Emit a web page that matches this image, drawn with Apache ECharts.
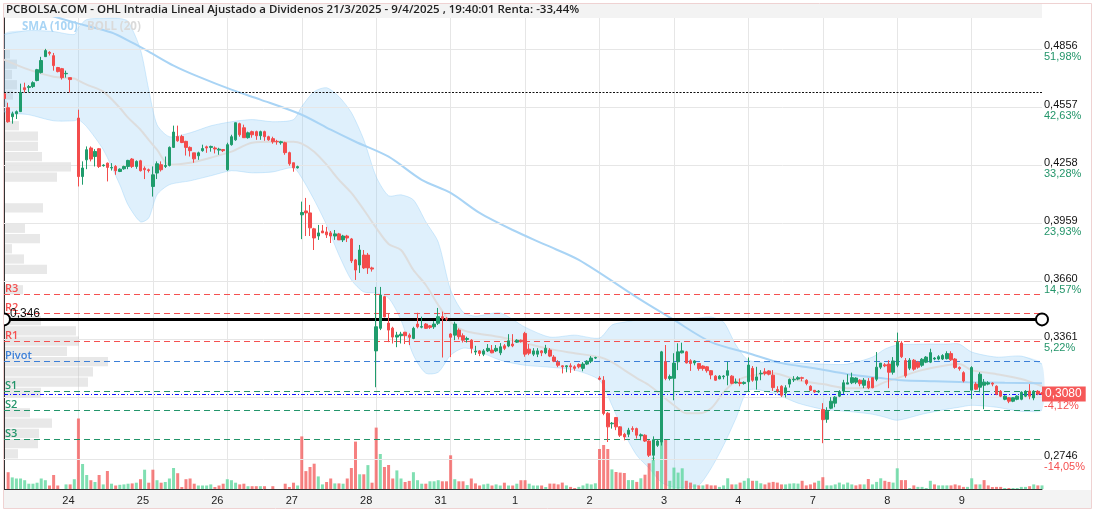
<!DOCTYPE html>
<html>
<head>
<meta charset="utf-8">
<title>OHL Intradia</title>
<script src="https://cdn.jsdelivr.net/npm/echarts@6.0.0/dist/echarts.min.js"></script>
<style>
  html, body { margin: 0; padding: 0; background: #fff; }
  #chart { width: 1096px; height: 512px; }
</style>
</head>
<body>
<div id="chart"></div>
<script>
// sesiones (dias) y barras de 30 min por sesion
const DAYS = ['21', '24', '25', '26', '27', '28', '31', '1', '2', '3', '4', '7', '8', '9'];
const SLOTS = 18;

// velas [apertura, cierre, minimo, maximo] por sesion
const day21 = [
  [0.4625, 0.4600, 0.4569, 0.4632], [0.4553, 0.4481, 0.4476, 0.4579], [0.4507, 0.4522, 0.4471, 0.4533],
  [0.4522, 0.4533, 0.4495, 0.4539], [0.4533, 0.4631, 0.4531, 0.4677], [0.4656, 0.4646, 0.4631, 0.4682],
  [0.4657, 0.4662, 0.4634, 0.4670], [0.4662, 0.4682, 0.4655, 0.4689], [0.4693, 0.4749, 0.4689, 0.4753],
  [0.4734, 0.4796, 0.4729, 0.4815], [0.4816, 0.4847, 0.4815, 0.4856], [0.4838, 0.4833, 0.4822, 0.4844],
  [0.4821, 0.4770, 0.4744, 0.4835], [0.4760, 0.4739, 0.4735, 0.4763], [0.4754, 0.4708, 0.4698, 0.4758],
  [0.4728, 0.4730, 0.4708, 0.4744], [0.4708, 0.4698, 0.4631, 0.4708], null
];
const day24 = [
  [0.4500, 0.4199, 0.4148, 0.4543], [0.4199, 0.4243, 0.4157, 0.4277], [0.4285, 0.4337, 0.4237, 0.4354],
  [0.4346, 0.4289, 0.4277, 0.4354], [0.4302, 0.4328, 0.4251, 0.4340], [0.4342, 0.4251, 0.4243, 0.4346],
  [0.4255, 0.4258, 0.4250, 0.4262], [0.4268, 0.4246, 0.4174, 0.4271], [0.4243, 0.4246, 0.4230, 0.4268],
  [0.4251, 0.4229, 0.4208, 0.4258], [0.4225, 0.4237, 0.4222, 0.4241], [0.4239, 0.4251, 0.4234, 0.4255],
  [0.4251, 0.4282, 0.4237, 0.4285], [0.4289, 0.4251, 0.4243, 0.4294], [0.4251, 0.4277, 0.4239, 0.4282],
  [0.4280, 0.4229, 0.4225, 0.4285], [0.4241, 0.4234, 0.4186, 0.4251], [0.4234, 0.4230, 0.4220, 0.4240]
];
const day25 = [
  [0.4148, 0.4208, 0.4096, 0.4251], [0.4217, 0.4265, 0.4186, 0.4277], [0.4260, 0.4234, 0.4225, 0.4277],
  [0.4251, 0.4256, 0.4243, 0.4302], [0.4256, 0.4349, 0.4251, 0.4354], [0.4349, 0.4428, 0.4346, 0.4461],
  [0.4405, 0.4383, 0.4378, 0.4461], [0.4405, 0.4374, 0.4371, 0.4414], [0.4380, 0.4349, 0.4307, 0.4383],
  [0.4349, 0.4332, 0.4302, 0.4354], [0.4321, 0.4290, 0.4270, 0.4321], [0.4306, 0.4321, 0.4285, 0.4327],
  [0.4332, 0.4343, 0.4327, 0.4363], [0.4352, 0.4346, 0.4321, 0.4358], [0.4349, 0.4354, 0.4327, 0.4358],
  [0.4346, 0.4341, 0.4318, 0.4354], [0.4335, 0.4340, 0.4311, 0.4347], [0.4338, 0.4332, 0.4325, 0.4340]
];
const day26 = [
  [0.4234, 0.4363, 0.4229, 0.4373], [0.4363, 0.4404, 0.4358, 0.4414], [0.4388, 0.4476, 0.4383, 0.4476],
  [0.4471, 0.4414, 0.4404, 0.4476], [0.4450, 0.4399, 0.4399, 0.4466], [0.4399, 0.4424, 0.4394, 0.4430],
  [0.4430, 0.4414, 0.4399, 0.4435], [0.4430, 0.4409, 0.4388, 0.4435], [0.4409, 0.4430, 0.4388, 0.4435],
  [0.4430, 0.4404, 0.4383, 0.4435], [0.4404, 0.4388, 0.4383, 0.4409], [0.4394, 0.4378, 0.4368, 0.4404],
  [0.4380, 0.4378, 0.4363, 0.4388], [0.4373, 0.4378, 0.4363, 0.4383], [0.4373, 0.4322, 0.4311, 0.4378],
  [0.4322, 0.4265, 0.4255, 0.4327], [0.4270, 0.4244, 0.4224, 0.4270], [0.4244, 0.4250, 0.4240, 0.4255]
];
const day27 = [
  [0.4002, 0.4014, 0.3877, 0.4070], [0.4022, 0.4012, 0.3893, 0.4089], [0.4012, 0.3935, 0.3893, 0.4053],
  [0.3930, 0.3883, 0.3821, 0.3935], [0.3893, 0.3909, 0.3873, 0.3950], [0.3919, 0.3909, 0.3909, 0.3950],
  [0.3914, 0.3899, 0.3883, 0.3940], [0.3909, 0.3893, 0.3857, 0.3919], [0.3893, 0.3904, 0.3873, 0.3924],
  [0.3904, 0.3873, 0.3873, 0.3909], [0.3873, 0.3893, 0.3862, 0.3899], [0.3893, 0.3883, 0.3862, 0.3899],
  [0.3878, 0.3765, 0.3754, 0.3883], [0.3770, 0.3718, 0.3667, 0.3775], [0.3744, 0.3821, 0.3703, 0.3847],
  [0.3795, 0.3729, 0.3723, 0.3821], [0.3795, 0.3729, 0.3698, 0.3806], [0.3729, 0.3723, 0.3710, 0.3735]
];
const day28 = [
  [0.3302, 0.3426, 0.3115, 0.3631], [0.3418, 0.3589, 0.3409, 0.3631], [0.3581, 0.3477, 0.3475, 0.3585],
  [0.3445, 0.3409, 0.3347, 0.3497], [0.3419, 0.3373, 0.3340, 0.3426], [0.3373, 0.3383, 0.3321, 0.3400],
  [0.3380, 0.3388, 0.3340, 0.3400], [0.3398, 0.3380, 0.3337, 0.3400], [0.3383, 0.3372, 0.3332, 0.3392],
  [0.3366, 0.3418, 0.3362, 0.3426], [0.3440, 0.3426, 0.3418, 0.3498], [0.3424, 0.3427, 0.3418, 0.3478],
  [0.3440, 0.3418, 0.3415, 0.3445], [0.3431, 0.3423, 0.3415, 0.3435], [0.3426, 0.3440, 0.3415, 0.3455],
  [0.3444, 0.3478, 0.3435, 0.3523], [0.3478, 0.3469, 0.3268, 0.3504], [0.3469, 0.3465, 0.3455, 0.3475]
];
const day31 = [
  [0.3389, 0.3372, 0.3270, 0.3393], [0.3383, 0.3440, 0.3357, 0.3452], [0.3409, 0.3375, 0.3361, 0.3418],
  [0.3380, 0.3357, 0.3345, 0.3392], [0.3361, 0.3366, 0.3345, 0.3375], [0.3357, 0.3315, 0.3289, 0.3362],
  [0.3296, 0.3301, 0.3281, 0.3328], [0.3302, 0.3289, 0.3275, 0.3306], [0.3285, 0.3302, 0.3275, 0.3311],
  [0.3302, 0.3315, 0.3296, 0.3337], [0.3306, 0.3292, 0.3290, 0.3332], [0.3302, 0.3315, 0.3296, 0.3332],
  [0.3292, 0.3323, 0.3280, 0.3342], [0.3328, 0.3315, 0.3306, 0.3337], [0.3327, 0.3354, 0.3321, 0.3388],
  [0.3337, 0.3328, 0.3321, 0.3388], [0.3347, 0.3357, 0.3343, 0.3362], [0.3357, 0.3350, 0.3345, 0.3360]
];
const day1 = [
  [0.3392, 0.3285, 0.3272, 0.3400], [0.3311, 0.3290, 0.3280, 0.3337], [0.3285, 0.3302, 0.3275, 0.3316],
  [0.3285, 0.3302, 0.3270, 0.3316], [0.3302, 0.3292, 0.3275, 0.3306], [0.3292, 0.3315, 0.3285, 0.3333],
  [0.3306, 0.3275, 0.3270, 0.3316], [0.3270, 0.3249, 0.3244, 0.3280], [0.3244, 0.3228, 0.3218, 0.3254],
  [0.3225, 0.3220, 0.3186, 0.3228], [0.3220, 0.3225, 0.3192, 0.3228], [0.3225, 0.3220, 0.3189, 0.3238],
  [0.3220, 0.3212, 0.3200, 0.3228], [0.3232, 0.3220, 0.3212, 0.3238], [0.3212, 0.3234, 0.3197, 0.3244],
  [0.3234, 0.3249, 0.3229, 0.3254], [0.3249, 0.3265, 0.3239, 0.3275], [0.3265, 0.3268, 0.3260, 0.3272]
];
const day2 = [
  [0.3162, 0.3156, 0.3151, 0.3172], [0.3151, 0.2980, 0.2971, 0.3172], [0.2981, 0.2911, 0.2833, 0.2987],
  [0.2927, 0.2930, 0.2902, 0.2936], [0.2959, 0.2911, 0.2894, 0.2962], [0.2911, 0.2868, 0.2859, 0.2914],
  [0.2873, 0.2859, 0.2842, 0.2880], [0.2873, 0.2894, 0.2858, 0.2906], [0.2902, 0.2898, 0.2885, 0.2914],
  [0.2902, 0.2868, 0.2851, 0.2907], [0.2865, 0.2870, 0.2842, 0.2877], [0.2868, 0.2838, 0.2833, 0.2873],
  [0.2838, 0.2765, 0.2756, 0.2842], [0.2765, 0.2845, 0.2739, 0.2862], [0.2816, 0.2838, 0.2808, 0.2845],
  [0.2833, 0.3297, 0.2815, 0.3302], [0.3246, 0.3160, 0.3151, 0.3332], [0.3160, 0.3170, 0.3150, 0.3180]
];
const day3 = [
  [0.3161, 0.3239, 0.3048, 0.3290], [0.3246, 0.3297, 0.3203, 0.3341], [0.3292, 0.3302, 0.3289, 0.3344],
  [0.3297, 0.3240, 0.3237, 0.3302], [0.3251, 0.3237, 0.3199, 0.3259], [0.3240, 0.3250, 0.3228, 0.3254],
  [0.3237, 0.3211, 0.3200, 0.3240], [0.3224, 0.3211, 0.3200, 0.3228], [0.3220, 0.3200, 0.3190, 0.3224],
  [0.3200, 0.3178, 0.3156, 0.3203], [0.3172, 0.3151, 0.3148, 0.3177], [0.3158, 0.3172, 0.3156, 0.3177],
  [0.3169, 0.3172, 0.3156, 0.3177], [0.3176, 0.3200, 0.3125, 0.3246], [0.3172, 0.3135, 0.3130, 0.3177],
  [0.3137, 0.3142, 0.3134, 0.3160], [0.3140, 0.3134, 0.3120, 0.3160], [0.3134, 0.3140, 0.3128, 0.3145]
];
const day4 = [
  [0.3143, 0.3229, 0.3091, 0.3268], [0.3212, 0.3151, 0.3143, 0.3224], [0.3151, 0.3168, 0.3103, 0.3220],
  [0.3184, 0.3187, 0.3151, 0.3203], [0.3194, 0.3186, 0.3176, 0.3213], [0.3199, 0.3182, 0.3176, 0.3203],
  [0.3177, 0.3113, 0.3096, 0.3203], [0.3103, 0.3096, 0.3086, 0.3120], [0.3120, 0.3074, 0.3065, 0.3125],
  [0.3086, 0.3112, 0.3062, 0.3125], [0.3131, 0.3155, 0.3113, 0.3160], [0.3153, 0.3156, 0.3142, 0.3172],
  [0.3157, 0.3164, 0.3151, 0.3172], [0.3164, 0.3161, 0.3146, 0.3169], [0.3151, 0.3134, 0.3125, 0.3156],
  [0.3120, 0.3099, 0.3096, 0.3125], [0.3099, 0.3091, 0.3086, 0.3101], [0.3091, 0.3095, 0.3086, 0.3100]
];
const day7 = [
  [0.3000, 0.2948, 0.2827, 0.3033], [0.2950, 0.2992, 0.2932, 0.3012], [0.3007, 0.3043, 0.3002, 0.3064],
  [0.3033, 0.3064, 0.3012, 0.3069], [0.3069, 0.3092, 0.3064, 0.3100], [0.3095, 0.3138, 0.3079, 0.3153],
  [0.3131, 0.3138, 0.3131, 0.3182], [0.3138, 0.3164, 0.3131, 0.3190], [0.3141, 0.3162, 0.3131, 0.3166],
  [0.3151, 0.3133, 0.3120, 0.3156], [0.3125, 0.3151, 0.3110, 0.3162], [0.3146, 0.3112, 0.3105, 0.3162],
  [0.3164, 0.3112, 0.3110, 0.3164], [0.3156, 0.3218, 0.3146, 0.3296], [0.3218, 0.3239, 0.3208, 0.3239],
  [0.3230, 0.3225, 0.3218, 0.3239], [0.3234, 0.3192, 0.3110, 0.3254], [0.3192, 0.3250, 0.3180, 0.3270]
];
const day8 = [
  [0.3228, 0.3347, 0.3218, 0.3396], [0.3342, 0.3272, 0.3265, 0.3352], [0.3252, 0.3174, 0.3164, 0.3265],
  [0.3213, 0.3254, 0.3203, 0.3265], [0.3254, 0.3208, 0.3200, 0.3260], [0.3244, 0.3218, 0.3210, 0.3250],
  [0.3228, 0.3259, 0.3220, 0.3265], [0.3244, 0.3270, 0.3239, 0.3275], [0.3244, 0.3293, 0.3239, 0.3313],
  [0.3260, 0.3265, 0.3254, 0.3270], [0.3260, 0.3272, 0.3254, 0.3280], [0.3260, 0.3278, 0.3255, 0.3285],
  [0.3262, 0.3288, 0.3258, 0.3300], [0.3288, 0.3256, 0.3250, 0.3300], [0.3260, 0.3217, 0.3210, 0.3265],
  [0.3217, 0.3210, 0.3200, 0.3222], [0.3190, 0.3147, 0.3140, 0.3197], null
];
const day9 = [
  [0.3100, 0.3216, 0.3055, 0.3223], [0.3131, 0.3105, 0.3100, 0.3141], [0.3115, 0.3182, 0.3089, 0.3192],
  [0.3125, 0.3141, 0.3002, 0.3157], [0.3131, 0.3138, 0.3125, 0.3146], [0.3136, 0.3131, 0.3120, 0.3140],
  [0.3120, 0.3079, 0.3074, 0.3125], [0.3094, 0.3069, 0.3064, 0.3100], [0.3053, 0.3069, 0.3048, 0.3074],
  [0.3061, 0.3043, 0.3033, 0.3064], [0.3043, 0.3061, 0.3038, 0.3064], [0.3053, 0.3069, 0.3048, 0.3074],
  [0.3053, 0.3089, 0.3048, 0.3094], [0.3069, 0.3094, 0.3064, 0.3100], [0.3095, 0.3069, 0.3053, 0.3131],
  [0.3060, 0.3094, 0.3048, 0.3100], [0.3094, 0.3080, 0.3074, 0.3100], [0.3085, 0.3080, 0.3075, 0.3090]
];
const OHLC = [day21, day24, day25, day26, day27, day28, day31, day1, day2, day3, day4, day7, day8, day9];

// volumen (miles de titulos) por barra
const vol21 = [0, 168, 116, 105, 105, 88, 53, 53, 63, 105, 88, 35, 140, 35, 0, 46, 46, 98];
const vol24 = [705, 250, 140, 88, 70, 140, 46, 180, 53, 35, 42, 46, 53, 56, 63, 98, 193, 63];
const vol25 = [193, 88, 63, 70, 105, 210, 158, 20, 98, 105, 53, 35, 35, 35, 46, 20, 35, 53];
const vol26 = [98, 88, 63, 46, 53, 28, 28, 28, 28, 28, 0, 28, 0, 0, 53, 20, 63, 35];
const vol27 = [526, 179, 220, 253, 126, 46, 70, 105, 56, 56, 53, 105, 210, 474, 147, 147, 239, 63];
const vol28 = [614, 350, 220, 240, 105, 186, 105, 70, 81, 168, 88, 53, 53, 77, 77, 88, 77, 77];
const vol31 = [337, 98, 77, 77, 39, 105, 56, 35, 46, 53, 35, 46, 35, 63, 35, 35, 53, 88];
const vol1 = [88, 53, 35, 35, 35, 20, 54, 54, 46, 64, 36, 21, 10, 21, 36, 54, 46, 57];
const vol2 = [400, 440, 400, 196, 170, 164, 160, 89, 89, 71, 107, 143, 257, 314, 179, 480, 500, 82];
const vol3 = [214, 164, 207, 82, 64, 46, 36, 36, 46, 36, 36, 21, 36, 107, 46, 46, 64, 82];
const vol4 = [107, 82, 82, 57, 46, 64, 71, 64, 46, 46, 54, 57, 54, 82, 36, 46, 64, 82];
const vol7 = [118, 36, 36, 46, 64, 46, 64, 46, 36, 46, 46, 100, 46, 71, 107, 82, 71, 64];
const vol8 = [207, 89, 89, 10, 36, 21, 21, 10, 82, 46, 36, 36, 36, 36, 46, 36, 21, 21];
const vol9 = [107, 46, 46, 89, 36, 20, 21, 21, 10, 10, 10, 10, 21, 21, 28, 46, 36, 36];
const VOLS = [vol21, vol24, vol25, vol26, vol27, vol28, vol31, vol1, vol2, vol3, vol4, vol7, vol8, vol9];

const smaSlots = [8, 18, 26, 31, 35, 41, 47, 55, 62, 72, 79, 85, 93, 101, 108, 115, 123, 131, 139, 154,
  162, 171, 180, 188, 196, 204, 212, 217, 225, 233, 242, 251];
const smaValues = [0.5048, 0.4986, 0.4940, 0.4888, 0.4842, 0.4770, 0.4713, 0.4646, 0.4595, 0.4517, 0.4440,
  0.4378, 0.4301, 0.4182, 0.4115, 0.4012, 0.3924, 0.3847, 0.3770, 0.3564, 0.3461, 0.3347, 0.3290, 0.3239,
  0.3213, 0.3182, 0.3162, 0.3151, 0.3146, 0.3141, 0.3138, 0.3136];

// Bandas de Bollinger (20)
const bollSlots = [0, 6, 12, 17, 18, 20, 24, 28, 30, 33, 35, 37, 40, 45, 50, 55, 60, 65, 70, 72, 75, 78, 81,
  84, 87, 90, 93, 96, 99, 102, 105, 108, 111, 114, 120, 126, 132, 138, 144, 147, 150, 153, 156, 159, 162,
  165, 168, 171, 174, 177, 180, 186, 192, 198, 204, 210, 213, 216, 222, 228, 231, 234, 240, 246, 251];
const bollUpper = [0.4930, 0.4950, 0.4945, 0.4930, 0.4966, 0.5007, 0.5012, 0.5012, 0.4997, 0.4852, 0.4646,
  0.4466, 0.4404, 0.4424, 0.4460, 0.4481, 0.4492, 0.4481, 0.4492, 0.4559, 0.4636, 0.4656, 0.4610, 0.4528,
  0.4388, 0.4198, 0.4100, 0.4105, 0.4079, 0.3966, 0.3862, 0.3615, 0.3502, 0.3481, 0.3497, 0.3424, 0.3373,
  0.3383, 0.3368, 0.3435, 0.3450, 0.3460, 0.3460, 0.3460, 0.3460, 0.3466, 0.3471, 0.3476, 0.3450, 0.3332,
  0.3254, 0.3244, 0.3239, 0.3234, 0.3234, 0.3270, 0.3311, 0.3332, 0.3337, 0.3337, 0.3337, 0.3296, 0.3270,
  0.3275, 0.3234];
const bollMid = [0.4801, 0.4749, 0.4713, 0.4703, 0.4693, 0.4672, 0.4636, 0.4553, 0.4502, 0.4440, 0.4388,
  0.4337, 0.4260, 0.4270, 0.4296, 0.4327, 0.4373, 0.4378, 0.4378, 0.4368, 0.4327, 0.4260, 0.4182, 0.4115,
  0.4028, 0.3935, 0.3852, 0.3821, 0.3718, 0.3641, 0.3538, 0.3450, 0.3409, 0.3393, 0.3373, 0.3342, 0.3311,
  0.3290, 0.3270, 0.3244, 0.3203, 0.3162, 0.3125, 0.3074, 0.3022, 0.2981, 0.2981, 0.3007, 0.3089, 0.3146,
  0.3172, 0.3187, 0.3151, 0.3131, 0.3110, 0.3115, 0.3141, 0.3162, 0.3203, 0.3228, 0.3234, 0.3203, 0.3182,
  0.3157, 0.3120];
const bollLower = [0.4533, 0.4517, 0.4486, 0.4486, 0.4492, 0.4455, 0.4337, 0.4157, 0.4053, 0.3966, 0.3986,
  0.4105, 0.4157, 0.4177, 0.4203, 0.4229, 0.4218, 0.4223, 0.4244, 0.4192, 0.4079, 0.3950, 0.3795, 0.3667,
  0.3605, 0.3600, 0.3574, 0.3460, 0.3280, 0.3187, 0.3192, 0.3280, 0.3316, 0.3306, 0.3254, 0.3228, 0.3218,
  0.3203, 0.3151, 0.3022, 0.2878, 0.2765, 0.2698, 0.2625, 0.2600, 0.2600, 0.2610, 0.2698, 0.2816, 0.2955,
  0.3100, 0.3084, 0.3033, 0.3002, 0.2991, 0.2976, 0.2961, 0.2945, 0.2976, 0.3002, 0.3012, 0.3022, 0.3012,
  0.2991, 0.2997];

// perfil de volumen por precio (40 tramos desde 0,4856 hacia abajo)
const profileTop = 0.4856;
const profileStep = 0.005275;
const profileVol = [50, 120, 70, 120, 80, 20, 30, 140, 330, 330, 370, 660, 520, 0, 0, 380, 0, 200, 350, 70,
  190, 420, 0, 180, 0, 0, 360, 710, 740, 620, 1030, 880, 830, 360, 0, 250, 470, 340, 330, 130];

// eje de precios
const tickValues = [0.4856, 0.4557, 0.4258, 0.3959, 0.3660, 0.3361, 0.3062, 0.2746];
const tickPct = ['51,98%', '42,63%', '33,28%', '23,93%', '14,57%', '5,22%', '-4,12%', '-14,05%'];

// niveles
const lastPrice = 0.3080;
const refLevel = 0.3464;
const prevLevel = 0.4631;
const pivots = [
  { name: 'R3', value: 0.3593 }, { name: 'R2', value: 0.3495 }, { name: 'R1', value: 0.3349 },
  { name: 'Pivot', value: 0.3249 }, { name: 'S1', value: 0.3093 }, { name: 'S2', value: 0.2995 },
  { name: 'S3', value: 0.2846 }
];

const UP = '#1f9c6c';
const DOWN = '#f34c4c';
const FONT = '"Liberation Sans", Arial, sans-serif';

const categories = [];
DAYS.forEach(d => { for (let s = 0; s < SLOTS; s++) categories.push(d + '|' + s); });
const N = categories.length;

const candleData = [];
OHLC.forEach(day => day.forEach(c => candleData.push(c ? c : '-')));

const volData = [];
let prevClose = null;
VOLS.forEach((day, di) => day.forEach((v, si) => {
  const c = OHLC[di][si];
  let up = true;
  if (c && prevClose !== null) up = c[1] >= prevClose;
  if (c) prevClose = c[1];
  volData.push({ value: v, itemStyle: { color: up ? 'rgba(92,214,156,0.78)' : 'rgba(243,80,80,0.72)' } });
}));

function sparse(slots, values) {
  const arr = new Array(N).fill(null);
  slots.forEach((k, i) => { arr[k] = values[i]; });
  return arr;
}

const pivotColor = n => (n[0] === 'R' ? '#f55050' : n === 'Pivot' ? '#3b7fd9' : '#23956a');

const chart = echarts.init(document.getElementById('chart'), null, { renderer: 'canvas' });

const option = {
  animation: false,
  backgroundColor: '#fff',
  grid: { left: 4, right: 54, top: 18, bottom: 23 },
  xAxis: [
    {
      type: 'category',
      data: categories,
      boundaryGap: false,
      axisLine: { lineStyle: { color: '#333', width: 1 } },
      axisTick: { show: false },
      axisLabel: {
        interval: i => i > 0 && i % SLOTS === 0,
        formatter: v => v.split('|')[0],
        color: '#222',
        fontSize: 11,
        fontFamily: FONT,
        margin: 6,
        padding: [0, 20, 0, 0]
      },
      splitLine: { show: true, interval: i => i % SLOTS === 0, lineStyle: { color: '#e6e6e6' } }
    },
    { type: 'value', min: 0, max: 10380, show: false }
  ],
  yAxis: [
    {
      type: 'value',
      position: 'right',
      min: 0.25913,
      max: 0.50148,
      splitLine: { show: false },
      axisLine: { show: true, lineStyle: { color: '#333' } },
      axisTick: { show: false },
      axisLabel: {
        customValues: tickValues,
        margin: 2,
        padding: [6, 0, 0, 0],
        formatter: v => {
          const i = tickValues.findIndex(t => Math.abs(t - v) < 1e-6);
          const pct = tickPct[i] || '';
          const style = pct[0] === '-' ? 'n' : 'p';
          return '{v|' + v.toFixed(4).replace('.', ',') + '}\n{' + style + '|' + pct + '}';
        },
        rich: {
          v: { color: '#111', fontSize: 11, fontFamily: FONT, lineHeight: 11 },
          p: { color: '#23956a', fontSize: 11, fontFamily: FONT, lineHeight: 11 },
          n: { color: '#f55050', fontSize: 11, fontFamily: FONT, lineHeight: 11 }
        }
      }
    },
    { type: 'value', min: 0, max: 4710, show: false }
  ],
  graphic: [
    { type: 'rect', shape: { x: 4, y: 4, width: 1038, height: 14 }, style: { fill: '#f3f3f3' }, z: -1, silent: true },
    { type: 'rect', shape: { x: 4, y: 490, width: 1087, height: 18 }, style: { fill: '#f3f3f3' }, z: -1, silent: true },
    { type: 'rect', shape: { x: 0, y: 0, width: 4, height: 512 }, style: { fill: '#fff' }, z: 100, silent: true },
    { type: 'rect', shape: { x: 3.5, y: 3.5, width: 1088, height: 505 }, style: { fill: 'none', stroke: '#efd2d2', lineWidth: 1 }, z: 101, silent: true },
    {
      type: 'text', x: 6, y: 4, z: 102, silent: true,
      style: {
        text: 'PCBOLSA.COM - OHL Intradia Lineal Ajustado a Dividenos 21/3/2025 - 9/4/2025 , 19:40:01 Renta: -33,44%',
        font: '600 11.5px "Open Sans", sans-serif', fill: '#222'
      }
    },
    { type: 'text', x: 22, y: 21, z: 102, silent: true, style: { text: 'SMA (100)', font: 'bold 11.5px "Open Sans", sans-serif', fill: '#a9d5f5' } },
    { type: 'text', x: 87, y: 21, z: 102, silent: true, style: { text: 'BOLL (20)', font: 'bold 11.5px "Open Sans", sans-serif', fill: '#dadada' } }
  ],
  series: [
    {
      name: 'grid',
      type: 'line',
      data: [],
      z: 0,
      markLine: {
        silent: true, symbol: 'none', animation: false, precision: 6,
        label: { show: false },
        lineStyle: { color: '#e6e6e6', width: 1, type: 'solid' },
        data: tickValues.map(v => ({ yAxis: v }))
      }
    },
    {
      name: 'perfil',
      type: 'custom',
      xAxisIndex: 1,
      yAxisIndex: 0,
      z: 1,
      silent: true,
      data: profileVol.map((w, i) => [w, i]),
      renderItem: (params, api) => {
        const w = api.value(0);
        if (!w) return null;
        const top = profileTop - api.value(1) * profileStep;
        const a = api.coord([0, top]);
        const b = api.coord([w, top - profileStep]);
        return {
          type: 'rect',
          shape: { x: a[0] + 1, y: a[1] + 0.5, width: b[0] - a[0], height: b[1] - a[1] - 1 },
          style: { fill: 'rgba(190,190,190,0.36)' }
        };
      }
    },
    {
      name: 'BOLL (20)',
      type: 'custom',
      z: 1,
      silent: true,
      data: bollSlots.map((k, i) => [k, bollUpper[i], bollLower[i]]),
      renderItem: (params, api) => {
        if (params.dataIndex !== 0) return null;
        const up = bollSlots.map((k, i) => api.coord([k, bollUpper[i]]));
        const lo = bollSlots.map((k, i) => api.coord([k, bollLower[i]]));
        return {
          type: 'group',
          children: [
            { type: 'polygon', shape: { points: up.concat(lo.slice().reverse()), smooth: 0.25 }, style: { fill: 'rgba(135,200,245,0.27)' } },
            { type: 'polyline', shape: { points: up, smooth: 0.25 }, style: { stroke: 'rgba(135,200,245,0.35)', lineWidth: 1, fill: null } },
            { type: 'polyline', shape: { points: lo, smooth: 0.25 }, style: { stroke: 'rgba(135,200,245,0.35)', lineWidth: 1, fill: null } }
          ]
        };
      }
    },
    {
      name: 'BOLL mid',
      type: 'line',
      data: sparse(bollSlots, bollMid),
      connectNulls: true,
      smooth: 0.3,
      symbol: 'none',
      z: 2,
      silent: true,
      lineStyle: { color: '#dddddd', width: 2 }
    },
    {
      name: 'SMA (100)',
      type: 'line',
      data: sparse(smaSlots, smaValues),
      connectNulls: true,
      smooth: 0.3,
      symbol: 'none',
      z: 2,
      silent: true,
      lineStyle: { color: '#a9d4f5', width: 2 }
    },
    {
      name: 'Volumen',
      type: 'bar',
      xAxisIndex: 0,
      yAxisIndex: 1,
      barWidth: 3,
      z: 3,
      silent: true,
      data: volData
    },
    {
      name: 'OHL',
      type: 'candlestick',
      data: candleData,
      barWidth: 3,
      z: 5,
      silent: true,
      itemStyle: { color: UP, color0: DOWN, borderColor: UP, borderColor0: DOWN, borderWidth: 1 },
      markLine: {
        silent: true, symbol: 'none', animation: false, precision: 6,
        data: [
          {
            yAxis: prevLevel,
            lineStyle: { color: '#111', type: [2, 1.5], width: 1 },
            label: { show: false }
          },
          ...pivots.map(p => ({
            yAxis: p.value,
            lineStyle: { color: pivotColor(p.name), type: [6, 4], width: 1 },
            label: {
              show: true, position: 'insideStartTop', distance: [1, 0], formatter: p.name,
              color: pivotColor(p.name), fontSize: 11, fontWeight: 600, fontFamily: '"Open Sans", sans-serif'
            }
          })),
          {
            yAxis: lastPrice,
            lineStyle: { color: '#1010ff', type: [4, 2, 1, 2], width: 1 },
            label: {
              show: true, position: 'end', distance: 0, formatter: '0,3080',
              color: '#fff', backgroundColor: '#f65858', padding: [2, 4, 1, 3],
              fontSize: 12, fontFamily: FONT
            }
          }
        ]
      }
    },
    {
      name: 'nivel',
      type: 'line',
      data: [],
      z: 6,
      markLine: {
        silent: true,
        animation: false,
        precision: 6,
        symbol: ['emptyCircle', 'emptyCircle'],
        symbolSize: 12,
        lineStyle: { color: '#000', width: 3, type: 'solid' },
        label: {
          show: true, position: 'insideStartTop', distance: [6, 0], formatter: '0,346',
          color: '#111', fontSize: 12, fontFamily: FONT
        },
        data: [{ yAxis: refLevel }]
      }
    }
  ]
};

chart.setOption(option);
</script>
</body>
</html>
